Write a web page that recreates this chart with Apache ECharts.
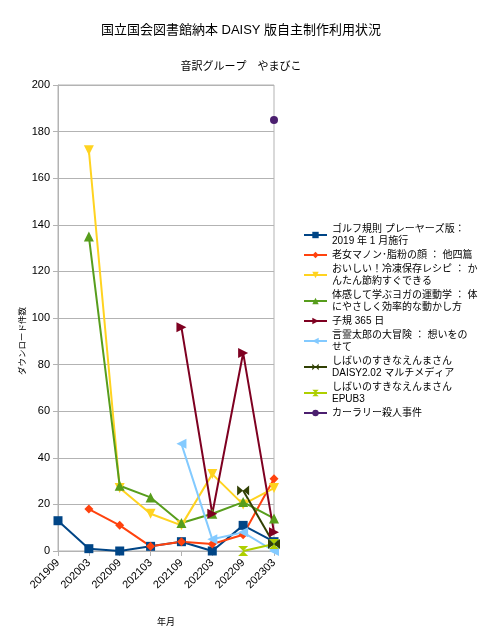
<!DOCTYPE html>
<html><head><meta charset="utf-8">
<script src="https://cdn.jsdelivr.net/npm/echarts@6/dist/echarts.min.js"></script>
<style>html,body{margin:0;padding:0;background:#fff}#c{width:482px;height:640px}</style>
</head><body><div id="c"></div>
<script>
const categories = ['201909','202003','202009','202103','202109','202203','202209','202303'];
const golf     = [13, 1, 0, 2, 4, 0, 11, 4];
const manon    = [null, 18, 11, 2, 4, 3, 7, 31];
const oishii   = [null, 172, 27, 16, 11, 33, 20, 27];
const taikan   = [null, 135, 28, 23, 12, 16, 21, 14];
const shiki    = [null, null, null, null, 96, 16, 85, 8];
const kotodama = [null, null, null, null, 46, 5, 8, 0];
const shibaiD  = [null, null, null, null, null, null, 26, 3];
const shibaiE  = [null, null, null, null, null, null, 0, 3];
const karari   = [null, null, null, null, null, null, null, 185];
const names = [
  'ゴルフ規則 プレーヤーズ版：\n2019 年 1 月施行',
  '老女マノン･脂粉の顔 ： 他四篇',
  'おいしい！冷凍保存レシピ ： か\nんたん節約すぐできる',
  '体感して学ぶヨガの運動学 ： 体\nにやさしく効率的な動かし方',
  '子規 365 日',
  '言霊太郎の大冒険 ： 想いをの\nせて',
  'しばいのすきなえんまさん\nDAISY2.02 マルチメディア',
  'しばいのすきなえんまさん\nEPUB3',
  'カーラリー殺人事件'
];
const FONT = "'Liberation Sans','Noto Sans CJK JP',sans-serif";
const bowtie = 'path://M0,0L10,5L0,10Z M20,0L10,5L20,10Z';
const hourglass = 'path://M0,0L10,0L5,5Z M0,10L10,10L5,5Z';
const defs = [
  {d: golf, c: '#004586', s: 'rect', r: 0, z: 9},
  {d: manon, c: '#ff420e', s: 'diamond', r: 0, z: 9},
  {d: oishii, c: '#ffd320', s: 'triangle', r: 180, z: 10},
  {d: taikan, c: '#579d1c', s: 'triangle', r: 0, z: 10},
  {d: shiki, c: '#7e0021', s: 'triangle', r: -90, z: 10},
  {d: kotodama, c: '#83caff', s: 'triangle', r: 90, z: 10},
  {d: shibaiD, c: '#314004', s: bowtie, r: 0, z: [12, 10]},
  {d: shibaiE, c: '#aecf00', s: hourglass, r: 0, z: [10, 10]},
  {d: karari, c: '#4b1f6f', s: 'circle', r: 0, z: 8}
];
const chart = echarts.init(document.getElementById('c'));
chart.setOption({
  animation: false,
  textStyle: {fontFamily: FONT},
  title: [
    {text: '国立国会図書館納本 DAISY 版自主制作利用状況', left: 'center', top: 19,
     textStyle: {fontSize: 13, fontWeight: 'normal', color: '#000', fontFamily: FONT}},
    {text: '音訳グループ　やまびこ', left: 'center', top: 56,
     textStyle: {fontSize: 11, fontWeight: 'normal', color: '#000', fontFamily: FONT}}
  ],
  grid: {left: 58, right: 208, top: 85, bottom: 89, show: true, borderColor: '#b3b3b3', borderWidth: 1},
  legend: {
    orient: 'vertical', left: 303, top: 223, padding: 0, itemWidth: 23, itemHeight: 8, itemGap: 2,
    textStyle: {fontSize: 10, lineHeight: 12, color: '#000', fontFamily: FONT},
    data: names
  },
  xAxis: {
    type: 'category', data: categories, boundaryGap: false,
    name: '年月', nameLocation: 'middle', nameGap: 67,
    nameTextStyle: {fontSize: 9, color: '#000'},
    axisLine: {lineStyle: {color: '#b3b3b3'}},
    axisTick: {show: true, length: 5, alignWithLabel: true, lineStyle: {color: '#b3b3b3'}},
    axisLabel: {rotate: 45, fontSize: 11, color: '#000', margin: 10, interval: 0},
    splitLine: {show: false}
  },
  yAxis: {
    type: 'value', min: 0, max: 200, interval: 20,
    name: 'ダウンロード件数', nameLocation: 'middle', nameGap: 31, nameRotate: 90,
    nameTextStyle: {fontSize: 8.5, color: '#000', padding: [0, 46, 0, 0]},
    axisLine: {show: true, lineStyle: {color: '#b3b3b3'}},
    axisTick: {show: true, length: 5, lineStyle: {color: '#b3b3b3'}},
    axisLabel: {fontSize: 11, color: '#000', margin: 8},
    splitLine: {lineStyle: {color: '#b3b3b3'}}
  },
  series: defs.map((o, i) => ({
    type: 'line', name: names[i], data: o.d, color: o.c,
    symbol: o.s, symbolRotate: o.r, symbolSize: o.z, showSymbol: true,
    lineStyle: {width: 2, color: o.c}, itemStyle: {color: o.c},
    connectNulls: false
  }))
});
</script></body></html>
